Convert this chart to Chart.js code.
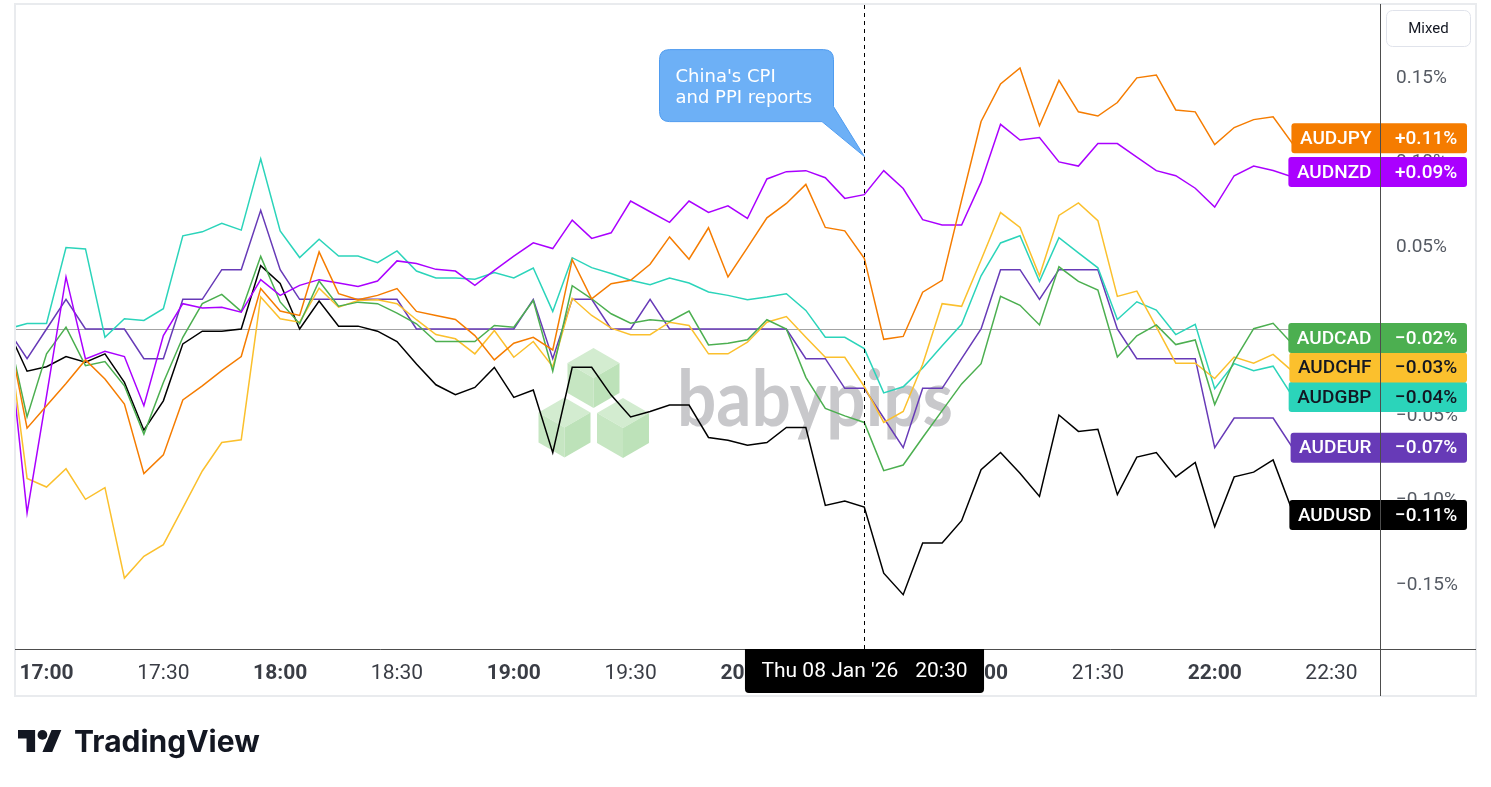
<!DOCTYPE html>
<html>
<head>
<meta charset="utf-8">
<title>AUD crosses</title>
<script src="https://cdn.jsdelivr.net/npm/chart.js@4.4.1/dist/chart.umd.min.js"></script>
<style>
  html, body { margin: 0; padding: 0; background: #ffffff; }
  #wrap { position: relative; width: 1491px; height: 787px; overflow: hidden; }
  #chart { position: absolute; left: 0; top: 0; }
</style>
</head>
<body>
<div id="wrap">
  <canvas id="chart" width="1491" height="787"></canvas>
</div>
<script>
// 5-minute closes, change since 16:50 in hundredths of a percent (5 = 0.05%)
const timeLabels = [
  '16:50','16:55','17:00','17:05','17:10','17:15','17:20','17:25','17:30','17:35','17:40','17:45',
  '17:50','17:55','18:00','18:05','18:10','18:15','18:20','18:25','18:30','18:35','18:40','18:45',
  '18:50','18:55','19:00','19:05','19:10','19:15','19:20','19:25','19:30','19:35','19:40','19:45',
  '19:50','19:55','20:00','20:05','20:10','20:15','20:20','20:25','20:30','20:35','20:40','20:45',
  '20:50','20:55','21:00','21:05','21:10','21:15','21:20','21:25','21:30','21:35','21:40','21:45',
  '21:50','21:55','22:00','22:05','22:10','22:15','22:20','22:25'
];

const audjpy = [
  0, -5.87, -4.54, -3.22, -1.83, -2.96, -4.44, -8.56, -7.45, -4.2, -3.36, -2.46,
  -1.63, 2.39, 1.06, 0.8, 4.56, 2.09, 1.73, 1.99, 2.39, 1.04, 0.8, 0.56,
  -0.39, -1.83, -0.84, -0.49, -1.24, 4.1, 1.79, 2.68, 2.88, 3.83, 5.45, 4.13,
  5.99, 3.08, 4.82, 6.58, 7.43, 8.56, 6.01, 5.81, 4.19, -0.61, -0.44, 2.18,
  2.88, 7.63, 12.28, 14.5, 15.45, 12.03, 14.71, 12.85, 12.6, 13.4, 14.86, 15.03,
  12.96, 12.85, 10.91, 11.92, 12.39, 12.56, 10.97, 11.28
];
const audnzd = [
  0, -10.88, -3.95, 3.08, -1.77, -1.32, -1.63, -4.54, -0.39, 1.5, 1.24, 1.29,
  1.0, 2.92, 1.99, 2.58, 2.92, 2.72, 2.52, 2.84, 4.03, 3.87, 3.53, 3.43,
  2.58, 3.47, 4.31, 5.1, 4.76, 6.44, 5.36, 5.69, 7.57, 6.94, 6.31, 7.57,
  6.9, 7.29, 6.54, 8.88, 9.31, 9.37, 8.95, 7.73, 7.95, 9.37, 8.31, 6.47,
  6.15, 6.15, 8.69, 12.11, 11.18, 11.33, 9.89, 9.64, 10.97, 10.97, 10.17, 9.37,
  9.07, 8.33, 7.21, 9.07, 9.64, 9.38, 9.0, 9.29
];
const audcad = [
  0, -5.2, -1.47, 0.11, -2.17, -1.93, -3.36, -6.22, -3.16, -0.49, 1.5, 2.05,
  1.04, 4.3, 1.6, 0.31, 2.84, 1.35, 1.59, 1.5, 0.94, 0.31, -0.74, -0.74,
  -0.74, 0.21, 0.11, 1.69, -2.5, 2.56, 1.79, 0.9, 0.34, 0.55, 0.45, 1.06,
  -0.94, -0.84, -0.64, 0.55, 0, -2.86, -4.7, -5.14, -5.53, -8.38, -8.05, -6.42,
  -4.83, -3.25, -2.05, 1.93, 1.4, 0.24, 3.68, 2.82, 2.31, -1.66, -0.4, 0.24,
  -0.92, -0.65, -4.47, -1.88, 0.02, 0.34, -0.9, -1.8
];
const audchf = [
  0, -8.84, -9.35, -8.27, -10.08, -9.39, -14.74, -13.45, -12.76, -10.58, -8.4, -6.72,
  -6.56, 1.89, 0.6, 0.4, 2.42, 1.29, 1.69, 1.73, 1.5, 0.55, -0.33, -0.58,
  -1.47, -0.09, -1.67, -0.74, -2.23, 1.82, 0.8, 0.05, -0.34, -0.34, 0.4, 0.21,
  -1.47, -1.47, -0.78, 0.4, 0.74, -0.49, -1.67, -1.67, -3.4, -5.53, -4.88, -2.09,
  1.5, 1.34, 4.08, 6.89, 6.01, 3.15, 6.72, 7.46, 6.41, 1.93, 2.24, 0.13,
  -2.02, -2.02, -2.93, -1.66, -2.02, -1.5, -2.51, -2.6
];
const audgbp = [
  0, 0.33, 0.33, 4.82, 4.74, -0.49, 0.61, 0.51, 1.2, 5.51, 5.75, 6.25,
  5.85, 10.07, 5.8, 4.23, 5.31, 4.32, 4.32, 3.93, 4.62, 3.43, 3.02, 3.02,
  2.94, 3.34, 3.02, 3.61, 1.04, 4.22, 3.63, 3.28, 2.88, 2.62, 3.02, 2.72,
  2.19, 1.99, 1.73, 1.89, 2.09, 1.1, -0.49, -0.49, -1.16, -3.78, -3.42, -2.3,
  -0.99, 0.28, 3.15, 5.09, 5.52, 2.82, 5.41, 4.5, 3.62, 0.56, 1.61, 1.12,
  -0.33, 0.28, -3.53, -2.05, -2.47, -2.2, -3.99, -4.03
];
const audeur = [
  0, -1.755, 0, 1.755, 0, 0, 0, -1.755, -1.755, 1.755, 1.755, 3.51,
  3.51, 7.02, 3.51, 1.755, 1.755, 1.755, 1.755, 1.755, 1.755, 0, 0, 0,
  0, 0, 0, 1.755, -1.755, 1.755, 1.755, 0, 0, 1.755, 0, 0,
  0, 0, 0, 0, 0, -1.755, -1.755, -3.51, -3.51, -5.265, -7.02, -3.51,
  -3.51, -1.755, 0, 3.51, 3.51, 1.755, 3.51, 3.51, 3.51, 0, -1.755, -1.755,
  -1.755, -1.755, -7.02, -5.265, -5.265, -5.265, -7.02, -7.02
];
const audusd = [
  0, -2.5, -2.23, -1.63, -1.97, -1.47, -3.16, -5.99, -4.25, -0.88, -0.13, -0.13,
  0, 3.75, 2.7, 0, 1.65, 0.17, 0.17, -0.13, -0.74, -2.07, -3.3, -3.89,
  -3.46, -2.27, -4.05, -3.61, -7.32, -2.27, -2.27, -3.91, -5.2, -4.88, -4.5, -4.5,
  -6.42, -6.58, -6.88, -6.72, -5.83, -5.83, -10.44, -10.18, -10.54, -14.45, -15.72, -12.66,
  -12.66, -11.34, -8.32, -7.31, -8.53, -9.91, -5.09, -6.06, -5.93, -9.8, -7.58, -7.31,
  -8.75, -7.9, -11.7, -8.75, -8.47, -7.75, -10.8, -11.0
];

const pairNames = ['AUDJPY', 'AUDNZD', 'AUDCAD', 'AUDCHF', 'AUDGBP', 'AUDEUR', 'AUDUSD'];
const pairSeries = [audjpy, audnzd, audcad, audchf, audgbp, audeur, audusd];
const pairColors = ['#f57c00', '#aa00ff', '#4caf50', '#fbc02d', '#2bd4ba', '#673ab7', '#000000'];
const tagTextColors = ['#ffffff', '#ffffff', '#ffffff', '#131722', '#131722', '#ffffff', '#ffffff'];

// visible window (minutes after midnight) and value range
const xMin = 1011.9, xMax = 1362.45;
const yMin = -18.935, yMax = 19.172;
const xStep = 30, yStep = 5;

const crosshairTime = '20:30';
const crosshairDate = "Thu 08 Jan '26";
const calloutLines = ["China's CPI", 'and PPI reports'];
const calloutValue = 10.2;

const FONT = 'Roboto, "Noto Sans", sans-serif';

function toMin(t) {
    const p = t.split(':').map(Number);
    return p[0] * 60 + p[1];
}
function fmtTime(v) {
    const h = Math.floor(v / 60), m = Math.round(v % 60);
    return String(h).padStart(2, '0') + ':' + String(m).padStart(2, '0');
}
function fmtPct(v, plus) {
    const sign = v < 0 ? '\u2212' : (plus && v > 0 ? '+' : '');
    return sign + Math.abs(v / 100).toFixed(2) + '%';
}

// babypips watermark, under the lines
const watermarkPlugin = {
    id: 'watermark',
    beforeDatasetsDraw(chart) {
        const { ctx, chartArea } = chart;
        const ox = chartArea.left, oy = chartArea.top;
        ctx.save();
        const cube = (cx, cy, r) => {
            const w = r * Math.sqrt(3) / 2;
            const T = [cx, cy - r], UR = [cx + w, cy - r / 2], LR = [cx + w, cy + r / 2];
            const B = [cx, cy + r], LL = [cx - w, cy + r / 2], UL = [cx - w, cy - r / 2], C = [cx, cy];
            const face = (pts, col) => {
                ctx.beginPath();
                ctx.moveTo(pts[0][0], pts[0][1]);
                pts.slice(1).forEach(p => ctx.lineTo(p[0], p[1]));
                ctx.closePath();
                ctx.fillStyle = col;
                ctx.fill();
            };
            face([T, UR, C, UL], '#d3ecd0');
            face([UL, C, B, LL], '#c6e6c2');
            face([C, UR, LR, B], '#bde2b9');
        };
        cube(ox + 578.5, oy + 373, 30);
        cube(ox + 549.5, oy + 422.5, 30);
        cube(ox + 608, oy + 423, 30);

        ctx.font = 'bold 78px Lato, ' + FONT;
        ctx.fillStyle = '#c8c8cb';
        ctx.textBaseline = 'alphabetic';
        const tw = ctx.measureText('babypips').width;
        ctx.translate(ox + 662, oy + 421);
        ctx.scale(276 / tw, 1);
        ctx.fillText('babypips', 0, 0);
        ctx.restore();
    }
};

// crosshair, callout, right-side tags, frame and footer
const overlayPlugin = {
    id: 'overlay',
    afterDraw(chart) {
        const { ctx, chartArea, scales } = chart;
        const xs = scales.x, ys = scales.y;
        const cx = Math.round(xs.getPixelForValue(toMin(crosshairTime))) + 0.5;

        ctx.save();
        // dashed crosshair
        ctx.strokeStyle = '#000000';
        ctx.lineWidth = 1;
        ctx.setLineDash([4, 4]);
        ctx.beginPath();
        ctx.moveTo(cx, chartArea.top);
        ctx.lineTo(cx, chartArea.bottom);
        ctx.stroke();
        ctx.setLineDash([]);

        // callout bubble pointing at the crosshair
        const tipX = cx, tipY = ys.getPixelForValue(calloutValue);
        const bx = tipX - 205, by = tipY - 107, bw = 174, bh = 72, r = 10;
        ctx.beginPath();
        ctx.moveTo(bx + r, by);
        ctx.lineTo(bx + bw - r, by);
        ctx.quadraticCurveTo(bx + bw, by, bx + bw, by + r);
        ctx.lineTo(bx + bw, by + bh - 15);
        ctx.lineTo(tipX, tipY);
        ctx.lineTo(tipX - 42.5, by + bh);
        ctx.lineTo(bx + r, by + bh);
        ctx.quadraticCurveTo(bx, by + bh, bx, by + bh - r);
        ctx.lineTo(bx, by + r);
        ctx.quadraticCurveTo(bx, by, bx + r, by);
        ctx.closePath();
        ctx.fillStyle = '#6db0f6';
        ctx.fill();
        ctx.strokeStyle = '#4f9cf0';
        ctx.stroke();
        ctx.fillStyle = '#ffffff';
        ctx.font = '18px "DejaVu Sans", sans-serif';
        ctx.textAlign = 'left';
        ctx.textBaseline = 'alphabetic';
        ctx.fillText(calloutLines[0], bx + 16, by + 32);
        ctx.fillText(calloutLines[1], bx + 16, by + 53);

        // tags: pushed upward where they would overlap
        const tagH = 29.5;
        const axisX = ys.left;
        const items = chart.data.datasets.map((ds, i) => {
            const last = ds.data[ds.data.length - 1].y;
            return { i, last, y: ys.getPixelForValue(last) };
        });
        items.sort((a, b) => b.y - a.y);
        for (let k = 1; k < items.length; k++) {
            if (items[k].y > items[k - 1].y - tagH) items[k].y = items[k - 1].y - tagH;
        }
        ctx.textBaseline = 'middle';
        items.forEach(it => {
            ctx.font = '500 19px ' + FONT;
            const nameW = ctx.measureText(pairNames[it.i]).width;
            const left = axisX - nameW - 17;
            const right = axisX + 87;
            ctx.fillStyle = pairColors[it.i];
            ctx.beginPath();
            ctx.roundRect(left, it.y - 15, right - left, 30, 3);
            ctx.fill();
            ctx.fillStyle = tagTextColors[it.i];
            ctx.textAlign = 'right';
            ctx.fillText(pairNames[it.i], axisX - 8.5, it.y + 1);
            ctx.textAlign = 'left';
            ctx.fillText(fmtPct(it.last, true), axisX + 15, it.y + 1);
        });

        // axis lines and widget frame
        ctx.strokeStyle = '#e9ebee';
        ctx.lineWidth = 2;
        ctx.strokeRect(15, 4, 1461, 692);
        ctx.strokeStyle = '#4d4d4d';
        ctx.lineWidth = 1;
        ctx.beginPath();
        ctx.moveTo(Math.round(axisX) + 0.5, 4);
        ctx.lineTo(Math.round(axisX) + 0.5, 696);
        ctx.moveTo(chartArea.left, Math.round(chartArea.bottom) + 0.5);
        ctx.lineTo(1476, Math.round(chartArea.bottom) + 0.5);
        ctx.stroke();

        // crosshair time label
        ctx.font = '21px ' + FONT;
        const w1 = ctx.measureText(crosshairDate).width;
        const w2 = ctx.measureText(crosshairTime).width;
        const gap = 17, pad = 16.5;
        const boxW = w1 + gap + w2 + 2 * pad;
        const boxL = cx - boxW / 2, boxT = Math.round(chartArea.bottom);
        ctx.fillStyle = '#000000';
        ctx.beginPath();
        ctx.roundRect(boxL, boxT, boxW, 44, [0, 0, 4, 4]);
        ctx.fill();
        ctx.fillStyle = '#ffffff';
        ctx.textAlign = 'left';
        ctx.textBaseline = 'middle';
        ctx.fillText(crosshairDate, boxL + pad, boxT + 23);
        ctx.fillText(crosshairTime, boxL + pad + w1 + gap, boxT + 23);

        // "Mixed" scale button
        ctx.fillStyle = '#ffffff';
        ctx.strokeStyle = '#e0e3eb';
        ctx.beginPath();
        ctx.roundRect(1386.5, 10.5, 84, 36, 6);
        ctx.fill();
        ctx.stroke();
        ctx.fillStyle = '#131722';
        ctx.font = '15px ' + FONT;
        ctx.textAlign = 'center';
        ctx.fillText('Mixed', 1428.5, 29);

        // TradingView footer
        ctx.save();
        ctx.translate(18, 725.1);
        ctx.scale(1.222, 1.222);
        ctx.fillStyle = '#131722';
        ctx.fill(new Path2D('M14 22H7V11H0V4h14v18zM28 22h-8l7.5-18h8L28 22z'));
        ctx.beginPath();
        ctx.arc(20, 8, 4, 0, Math.PI * 2);
        ctx.fill();
        ctx.restore();
        ctx.fillStyle = '#131722';
        ctx.font = 'bold 30px Inter, ' + FONT;
        ctx.textAlign = 'left';
        ctx.textBaseline = 'alphabetic';
        ctx.fillText('TradingView', 74, 752);
        ctx.restore();
    }
};

Chart.defaults.font.family = FONT;

new Chart(document.getElementById('chart').getContext('2d'), {
    type: 'line',
    data: {
        datasets: pairSeries.map((s, i) => ({
            label: pairNames[i],
            data: s.map((v, k) => ({ x: toMin(timeLabels[k]), y: v })),
            borderColor: pairColors[i],
            backgroundColor: pairColors[i],
            borderWidth: 1.5,
            pointRadius: 0,
            tension: 0,
            fill: false
        }))
    },
    options: {
        responsive: false,
        animation: false,
        events: [],
        layout: { padding: { left: 15, top: 5, right: 15, bottom: 91 } },
        plugins: { legend: { display: false }, tooltip: { enabled: false } },
        scales: {
            x: {
                type: 'linear',
                min: xMin,
                max: xMax,
                grid: { display: false, drawTicks: false },
                border: { display: false },
                afterFit: (s) => {
                    s.height = 47;
                    s.paddingLeft = 0; s.paddingRight = 0;
                },
                ticks: {
                    stepSize: xStep,
                    maxTicksLimit: 40,
                    includeBounds: false,
                    maxRotation: 0,
                    autoSkip: false,
                    padding: 12,
                    color: '#3a3d45',
                    font: (c) => ({ family: FONT, size: 21, weight: (c.tick && c.tick.value % 60 === 0) ? 'bold' : 'normal' }),
                    callback: (v) => fmtTime(v)
                }
            },
            y: {
                type: 'linear',
                position: 'right',
                min: yMin,
                max: yMax,
                border: { display: false },
                grid: {
                    drawTicks: false,
                    lineWidth: 1,
                    color: (c) => (c.tick && c.tick.value === 0) ? '#a3a3a3' : 'rgba(0,0,0,0)'
                },
                afterFit: (s) => {
                    s.width = 96;
                    s.paddingTop = 0; s.paddingBottom = 0;
                },
                ticks: {
                    stepSize: yStep,
                    maxTicksLimit: 40,
                    includeBounds: false,
                    padding: 16,
                    labelOffset: 2.5,
                    color: '#555a63',
                    font: { family: FONT, size: 19 },
                    callback: (v) => fmtPct(v, false)
                }
            }
        }
    },
    plugins: [watermarkPlugin, overlayPlugin]
});
</script>
</body>
</html>
